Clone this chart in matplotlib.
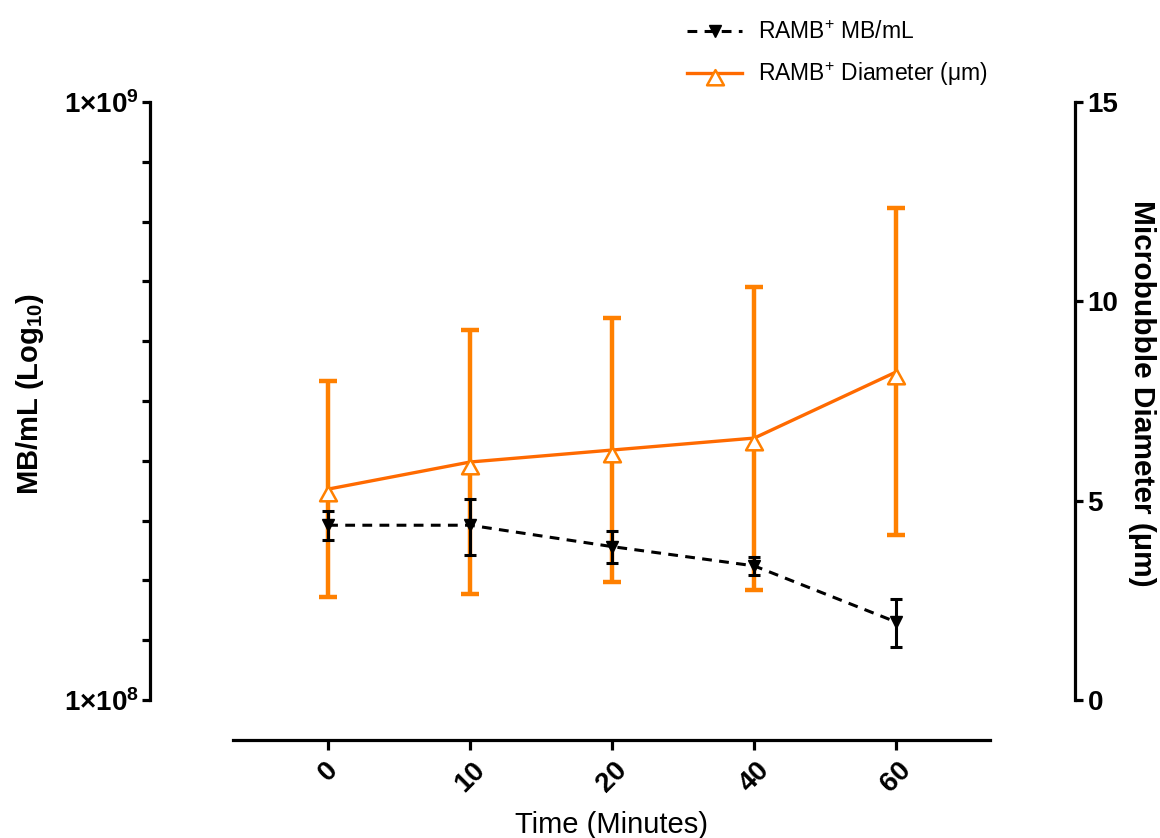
import numpy as np
import matplotlib
matplotlib.use('Agg')
import matplotlib.pyplot as plt
from matplotlib.path import Path
from matplotlib.ticker import FixedLocator, FixedFormatter, NullFormatter

plt.rcParams['font.family'] = ['Liberation Sans', 'DejaVu Sans']
plt.rcParams['mathtext.fontset'] = 'custom'
plt.rcParams['mathtext.rm'] = 'Liberation Sans'
plt.rcParams['mathtext.bf'] = 'Liberation Sans:bold'
plt.rcParams['mathtext.it'] = 'Liberation Sans:italic'

# data
time_labels = ['0', '10', '20', '40', '60']
mb_mean = [1.96e8, 1.96e8, 1.805e8, 1.676e8, 1.35e8]
mb_sd = [1.1e7, 2.1e7, 1.1e7, 0.6e7, 1.25e7]
diam_mean = [5.29, 5.97, 6.27, 6.57, 8.23]
diam_sd = [2.7, 3.3, 3.3, 3.8, 4.1]

x = np.arange(len(time_labels))

black = '#000000'
orange_line = '#FF6A00'
orange = '#FF8000'

fig = plt.figure(figsize=(11.6, 8.38), dpi=100)
ax = fig.add_axes([233/1160, 1-700/838, 757/1160, 598/838])
ax2 = ax.twinx()
ax.set_zorder(ax2.get_zorder() + 1)
ax.patch.set_visible(False)

# triangle marker shifted down so the line meets near the top (prism style)
tri = Path([(-1, -1.4), (1, -1.4), (0, 0.4), (-1, -1.4)],
           [Path.MOVETO, Path.LINETO, Path.LINETO, Path.CLOSEPOLY])

# orange: diameter on right axis
ax2.errorbar(x, diam_mean, yerr=diam_sd, fmt='none', ecolor=orange,
             elinewidth=3.2, capsize=6.5, capthick=3.2, zorder=1)
l2, = ax2.plot(x, diam_mean, color=orange_line, lw=2.4, marker=tri,
               ms=17, mfc='white', mec=orange, mew=1.8, zorder=3,
               label='RAMB$^{+}$ Diameter (μm)')

# black: MB/mL on left log axis
ax.errorbar(x, mb_mean, yerr=mb_sd, fmt='none', ecolor=black,
            elinewidth=2.2, capsize=4.5, capthick=2.2, zorder=2)
l1, = ax.plot(x, mb_mean, color=black, lw=2.2, ls=(0, (3.2, 2.4)),
              marker='v', ms=8, zorder=3, label='RAMB$^{+}$ MB/mL')

ax.set_yscale('log')
ax.set_ylim(1e8, 1e9)
ax.set_xlim(-0.67, 4.66)
ax2.set_ylim(0, 15)

ax.yaxis.set_major_locator(FixedLocator([1e8, 1e9]))
ax.yaxis.set_major_formatter(FixedFormatter([r'$\mathbf{1{\times}10^{8}}$',
                                             r'$\mathbf{1{\times}10^{9}}$']))
ax.yaxis.set_minor_locator(FixedLocator([10 ** (8 + 0.1 * k) for k in range(1, 10)]))
ax.yaxis.set_minor_formatter(NullFormatter())
ax2.set_yticks([0, 5, 10, 15])

for s in ['top', 'right']:
    ax.spines[s].set_visible(False)
for s in ['top', 'left', 'bottom']:
    ax2.spines[s].set_visible(False)
ax.spines['left'].set_position(('outward', 59.8))
ax.spines['bottom'].set_position(('outward', 28.8))
ax2.spines['right'].set_position(('outward', 61.2))
for sp in [ax.spines['left'], ax.spines['bottom'], ax2.spines['right']]:
    sp.set_linewidth(2.3)

ax.tick_params(axis='y', which='both', length=6, width=2.3, labelsize=20, pad=2)
ax.tick_params(axis='x', length=7, width=2.3, pad=5, labelsize=20)
ax2.tick_params(axis='y', length=6, width=2.3, labelsize=20, pad=3)

ax.set_xticks(x)
ax.set_xticklabels(time_labels, rotation=45, ha='center', fontweight='bold', fontsize=20)
ax2.set_yticklabels(['0', '5', '10', '15'], fontweight='bold', fontsize=20)

ax.set_ylabel('MB/mL (Log$_{\\mathbf{10}}$)', fontsize=21, fontweight='bold')
ax.yaxis.set_label_coords(-0.247, 0.5125)
ax2.set_ylabel('Microbubble Diameter (μm)', fontsize=21.5, fontweight='bold',
               rotation=270, va='bottom', ha='center', rotation_mode='anchor')
ax2.yaxis.set_label_coords(1.182, 0.5125)
ax.set_xlabel('Time (Minutes)', fontsize=21)
ax.xaxis.set_label_coords(0.5, -0.185)

fig.legend(handles=[l1, l2], loc='upper left', bbox_to_anchor=(671/1160, 1 - 5/838),
           frameon=False, fontsize=16.5, handlelength=2.4, handletextpad=0.7,
           labelspacing=0.7, borderaxespad=0.3)

fig.savefig('out.png', dpi=100)
